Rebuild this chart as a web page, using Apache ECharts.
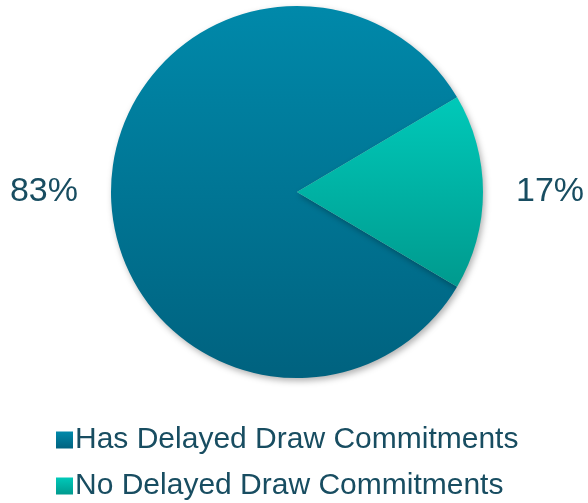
<!DOCTYPE html>
<html>
<head>
<meta charset="utf-8">
<script src="https://cdn.jsdelivr.net/npm/echarts@6/dist/echarts.min.js"></script>
<style>
html,body{margin:0;padding:0;background:#fff;}
#chart{width:588px;height:503px;}
</style>
</head>
<body>
<div id="chart"></div>
<script>
const categories = ["Has Delayed Draw Commitments", "No Delayed Draw Commitments"];
const values = [83, 17];
const topColors = ["#0089aa", "#00c9b9"];
const bottomColors = ["#00627f", "#009a8e"];

const chart = echarts.init(document.getElementById('chart'));
const textColor = '#184d61';
const data = categories.map((name, i) => ({
  name: name,
  value: values[i],
  itemStyle: {
    color: new echarts.graphic.LinearGradient(0, 0, 0, 1, [
      {offset: 0, color: topColors[i]},
      {offset: 1, color: bottomColors[i]}
    ])
  }
}));
const legendTops = [420, 466];
chart.setOption({
  animation: false,
  legend: categories.map((c, i) => ({
    orient: 'horizontal',
    left: 51,
    top: legendTops[i],
    itemWidth: 17,
    itemHeight: 17,
    icon: 'rect',
    textStyle: {fontFamily: 'Liberation Sans, Arial, sans-serif', fontSize: 30, color: textColor, padding: [0,0,0,-3]},
    data: [c]
  })),
  series: [{
    type: 'pie',
    center: [297, 192],
    radius: [0, 186],
    startAngle: -30.6,
    clockwise: true,
    data: data,
    itemStyle: {
      shadowBlur: 6,
      shadowColor: 'rgba(0,0,0,0.3)',
      shadowOffsetX: 2,
      shadowOffsetY: 3
    },
    label: {
      show: true,
      position: 'outside',
      formatter: p => p.value + '%',
      fontFamily: 'Liberation Sans, Arial, sans-serif',
      fontSize: 34,
      color: textColor,
      overflow: 'none'
    },
    labelLine: {show: false, length: 14, length2: 14},
    emphasis: {disabled: true}
  }]
});
</script>
</body>
</html>
